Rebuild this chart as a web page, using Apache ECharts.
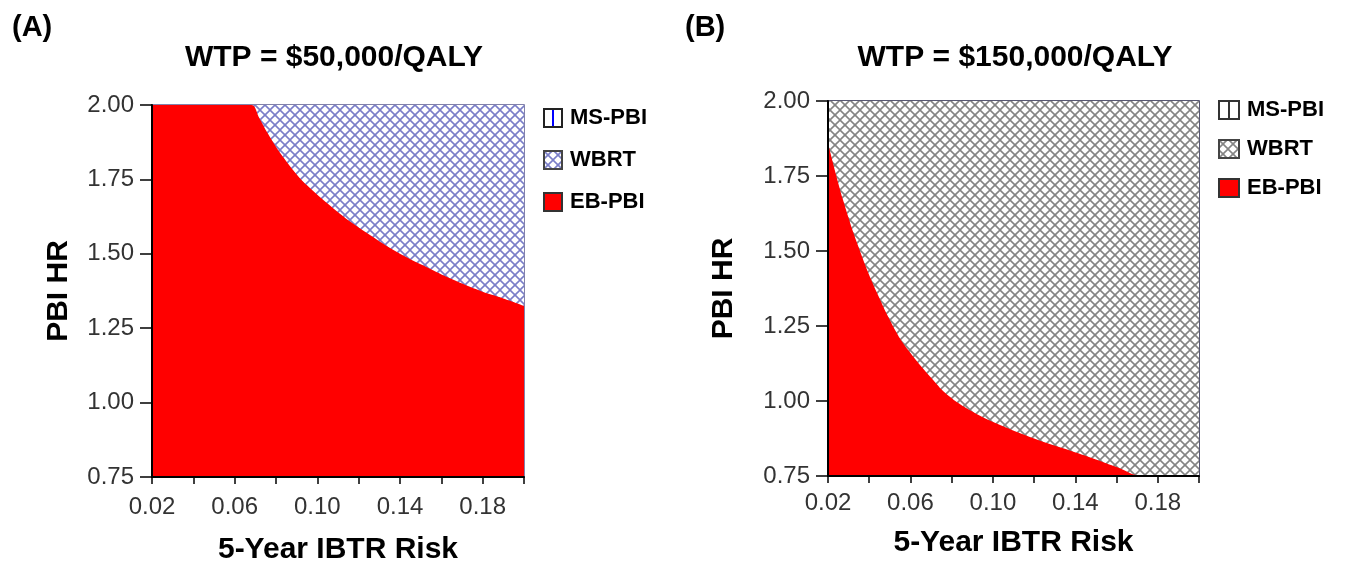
<!DOCTYPE html>
<html>
<head>
<meta charset="utf-8">
<script src="https://cdn.jsdelivr.net/npm/echarts@6/dist/echarts.min.js"></script>
<style>
html,body{margin:0;padding:0;background:#fff;}
#chart{width:1345px;height:570px;}
</style>
</head>
<body>
<div id="chart"></div>
<script>
// ---- data ----
const panelLabels = ['(A)', '(B)'];
const titles = ['WTP = $50,000/QALY', 'WTP = $150,000/QALY'];
const legendNames = ['MS-PBI', 'WBRT', 'EB-PBI'];
const xName = '5-Year IBTR Risk';
const yName = 'PBI HR';
const xTickValues = [0.02, 0.04, 0.06, 0.08, 0.10, 0.12, 0.14, 0.16, 0.18, 0.20];
const yTickValues = [0.75, 1.00, 1.25, 1.50, 1.75, 2.00];

// WBRT region (top of the plotted domain)
const wbrtRisk = [0.02, 0.20];
const wbrtHr = [2.00, 2.00];

// EB-PBI boundary, panel A (WTP 50,000)
const riskA = [0.02, 0.04, 0.06, 0.068, 0.072, 0.076, 0.0795, 0.084, 0.089, 0.095, 0.11, 0.124, 0.14, 0.153, 0.165, 0.179, 0.19, 0.20];
const hrA   = [2.00, 2.00, 2.00, 2.00, 1.955, 1.905, 1.865, 1.82, 1.775, 1.73, 1.64, 1.57, 1.50, 1.455, 1.415, 1.375, 1.35, 1.325];

// EB-PBI boundary, panel B (WTP 150,000)
const riskB = [0.02, 0.0273, 0.0355, 0.0438, 0.0535, 0.06, 0.071, 0.078, 0.09, 0.1035, 0.12, 0.136, 0.15, 0.16, 0.173, 0.20];
const hrB   = [1.86, 1.67, 1.50, 1.36, 1.225, 1.16, 1.07, 1.02, 0.965, 0.92, 0.875, 0.838, 0.805, 0.78, 0.75, 0.75];

// ---- helpers ----
const FONT = "'Liberation Sans', Arial, sans-serif";
function zip(xs, ys){ return xs.map((x,i)=>[x, ys[i]]); }

function hatchCanvas(color){
  const c = document.createElement('canvas');
  c.width = 10; c.height = 10;
  const g = c.getContext('2d');
  g.fillStyle = '#ffffff'; g.fillRect(0,0,10,10);
  g.strokeStyle = color; g.lineWidth = 1.6;
  for (const k of [-10, 0, 10]) {
    g.beginPath(); g.moveTo(k,0); g.lineTo(k+10,10); g.stroke();
    g.beginPath(); g.moveTo(k+10,0); g.lineTo(k,10); g.stroke();
  }
  return c;
}
function iconURL(kind, w, h, color, border){
  const c = document.createElement('canvas');
  c.width = w; c.height = h;
  const g = c.getContext('2d');
  if (kind === 'hatch') {
    g.fillStyle = g.createPattern(hatchCanvas(color), 'repeat');
  } else if (kind === 'solid') {
    g.fillStyle = color;
  } else {
    g.fillStyle = '#ffffff';
  }
  g.fillRect(0,0,w,h);
  if (kind === 'vline') {
    g.strokeStyle = color; g.lineWidth = 2;
    g.beginPath(); g.moveTo(w/2, 1); g.lineTo(w/2, h-1); g.stroke();
  }
  g.strokeStyle = border; g.lineWidth = 2;
  g.strokeRect(1,1,w-2,h-2);
  return 'image://' + c.toDataURL();
}

const hatchA = hatchCanvas('#7a7ec8');
const hatchB = hatchCanvas('#858585');

const panels = [
  {grid:{left:152, top:105, width:372, height:373, border:'#5a5a90'},
   hatch:hatchA, risk:riskA, hr:hrA,
   titleX:329, labelX:7, xGap:58, yGap:78, xMargin:18,
   legend:{left:543, top:107, w:20, h:20, gap:20,
           icons:[iconURL('vline',20,20,'#0000ff','#222'), iconURL('hatch',20,20,'#7a7ec8','#444'), iconURL('solid',20,20,'#ff0000','#333')]}},
  {grid:{left:828, top:101, width:371, height:375, border:'#222244'},
   hatch:hatchB, risk:riskB, hr:hrB,
   titleX:1010, labelX:680, xGap:52, yGap:89, xMargin:15,
   legend:{left:1218, top:99, w:22, h:20, gap:17,
           icons:[iconURL('vline',22,20,'#333','#333'), iconURL('hatch',22,20,'#858585','#444'), iconURL('solid',22,20,'#ff0000','#333')]}}
];

const option = {
  animation: false,
  backgroundColor: '#ffffff',
  title: [],
  legend: [],
  grid: [],
  xAxis: [],
  yAxis: [],
  series: []
};

panels.forEach((p, i) => {
  option.title.push({
    text: titles[i], left: p.titleX, top: 38, textAlign: 'center',
    textStyle: {fontFamily: FONT, fontSize: 30, fontWeight: 'bold', color: '#000'}
  });
  option.title.push({
    text: panelLabels[i], left: p.labelX, top: 8,
    textStyle: {fontFamily: FONT, fontSize: 29, fontWeight: 'bold', color: '#000'}
  });
  option.legend.push({
    orient: 'vertical', left: p.legend.left, top: p.legend.top,
    itemWidth: p.legend.w, itemHeight: p.legend.h, itemGap: p.legend.gap,
    selectedMode: false, padding: 0,
    textStyle: {fontFamily: FONT, fontSize: 22, fontWeight: 'bold', color: '#000', padding:[0,0,0,2]},
    data: legendNames.map((n, k) => ({name: n, icon: p.legend.icons[k]}))
  });
  option.grid.push({
    left: p.grid.left, top: p.grid.top, width: p.grid.width, height: p.grid.height,
    show: true, borderColor: p.grid.border, borderWidth: 1.5, backgroundColor: 'transparent'
  });
  option.xAxis.push({
    type: 'value', gridIndex: i, min: xTickValues[0], max: xTickValues[xTickValues.length-1], interval: 0.02,
    z: 10,
    name: xName, nameLocation: 'middle', nameGap: p.xGap,
    nameTextStyle: {fontFamily: FONT, fontSize: 30, fontWeight: 'bold', color: '#000'},
    axisLine: {show: true, onZero: false, lineStyle: {color: '#000', width: 2}},
    axisTick: {show: true, length: 7, lineStyle: {color: '#000', width: 1.5}},
    axisLabel: {fontFamily: FONT, fontSize: 24, color: '#333', margin: p.xMargin,
      formatter: (v, idx) => (idx % 2 === 0 ? v.toFixed(2) : '')},
    splitLine: {show: false}
  });
  option.yAxis.push({
    type: 'value', gridIndex: i, min: yTickValues[0], max: yTickValues[yTickValues.length-1], interval: 0.25,
    z: 10,
    name: yName, nameLocation: 'middle', nameGap: p.yGap,
    nameTextStyle: {fontFamily: FONT, fontSize: 30, fontWeight: 'bold', color: '#000'},
    axisLine: {show: true, onZero: false, lineStyle: {color: '#000', width: 2}},
    axisTick: {show: true, length: 12, lineStyle: {color: '#000', width: 1.5}},
    axisLabel: {fontFamily: FONT, fontSize: 24, color: '#333', margin: 18,
      formatter: v => v.toFixed(2)},
    splitLine: {show: false}
  });
  option.series.push({
    name: 'WBRT', type: 'line', xAxisIndex: i, yAxisIndex: i,
    data: zip(wbrtRisk, wbrtHr), symbol: 'none', silent: true,
    lineStyle: {width: 0}, areaStyle: {opacity: 1, color: {image: p.hatch, repeat: 'repeat'}},
    itemStyle: {color: '#858585'}, z: 2
  });
  option.series.push({
    name: 'EB-PBI', type: 'line', xAxisIndex: i, yAxisIndex: i,
    data: zip(p.risk, p.hr), symbol: 'none', silent: true, smooth: 0.4,
    lineStyle: {width: 0}, areaStyle: {opacity: 1, color: '#ff0000'},
    itemStyle: {color: '#ff0000'}, z: 3
  });
  option.series.push({
    name: 'MS-PBI', type: 'line', xAxisIndex: i, yAxisIndex: i,
    data: [], symbol: 'none', itemStyle: {color: '#0000ff'}
  });
});

const chart = echarts.init(document.getElementById('chart'), null, {renderer: 'canvas'});
chart.setOption(option);
</script>
</body>
</html>
